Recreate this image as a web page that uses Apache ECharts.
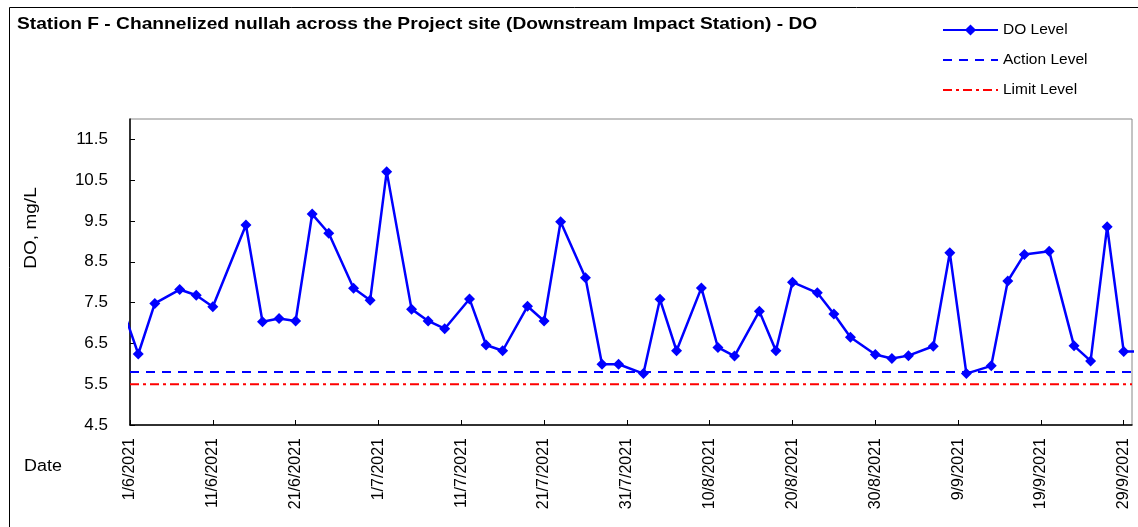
<!DOCTYPE html>
<html>
<head>
<meta charset="utf-8">
<script src="https://cdn.jsdelivr.net/npm/echarts@6/dist/echarts.min.js"></script>
<style>
html,body{margin:0;padding:0;background:#fff;}
#chart{width:1138px;height:527px;}
</style>
</head>
<body>
<div id="chart"></div>
<script>
// ---- data ----
var titleText = 'Station F - Channelized nullah across the Project site (Downstream Impact Station) - DO';
var sampleDates = ['30/5/2021','2/6/2021','4/6/2021','7/6/2021','9/6/2021','11/6/2021','15/6/2021','17/6/2021','19/6/2021','21/6/2021',
  '23/6/2021','25/6/2021','28/6/2021','30/6/2021','2/7/2021','5/7/2021','7/7/2021','9/7/2021','12/7/2021','14/7/2021',
  '16/7/2021','19/7/2021','21/7/2021','23/7/2021','26/7/2021','28/7/2021','30/7/2021','2/8/2021','4/8/2021','6/8/2021',
  '9/8/2021','11/8/2021','13/8/2021','16/8/2021','18/8/2021','20/8/2021','23/8/2021','25/8/2021','27/8/2021','30/8/2021',
  '1/9/2021','3/9/2021','6/9/2021','8/9/2021','10/9/2021','13/9/2021','15/9/2021','17/9/2021','20/9/2021','23/9/2021',
  '25/9/2021','27/9/2021','29/9/2021','1/10/2021'];
var doLevel = [8.0,6.24,7.48,7.82,7.68,7.40,9.40,7.03,7.11,7.05,
  9.67,9.20,7.85,7.56,10.71,7.34,7.05,6.86,7.59,6.46,
  6.32,7.41,7.05,9.48,8.11,5.99,5.99,5.76,7.58,6.32,
  7.86,6.40,6.19,7.29,6.32,8.00,7.74,7.22,6.65,6.23,
  6.13,6.20,6.43,8.72,5.76,5.95,8.03,8.68,8.76,6.44,
  6.07,9.36,6.30,6.30];
var actionLevel = 5.8;
var limitLevel = 5.5;
var axisStartDate = '1/6/2021';
var axisEndDate = '30/9/2021';
var yTickMin = 4.5, yTickMax = 12, yTickStep = 1;
var xTickStepDays = 10;

// ---- helpers ----
function parseDMY(s){ var p = s.split('/'); return Date.UTC(+p[2], +p[1]-1, +p[0]); }
var DAY = 86400000;
var t0 = parseDMY(axisStartDate);
function dayOf(s){ return Math.round((parseDMY(s) - t0) / DAY); }
function labelOf(d){ var dt = new Date(t0 + d*DAY); return dt.getUTCDate() + '/' + (dt.getUTCMonth()+1) + '/' + dt.getUTCFullYear(); }
var xMax = dayOf(axisEndDate);

var doData = sampleDates.map(function(s,i){ return [dayOf(s), doLevel[i]]; });
var actionData = [[0, actionLevel],[xMax, actionLevel]];
var limitData = [[0, limitLevel],[xMax, limitLevel]];

var FONT = 'Liberation Sans, Arial, sans-serif';
var chart = echarts.init(document.getElementById('chart'), null, {renderer:'canvas'});
chart.setOption({
  backgroundColor:'#ffffff',
  animation:false,
  textStyle:{fontFamily:FONT, color:'#000'},
  graphic:[
    {type:'rect', left:7, top:5, shape:{x:0,y:0,width:1140,height:530}, style:{fill:'none', stroke:'#000', lineWidth:1}, z:-1},
    {type:'text', x:17, y:24, scaleX:1.128, style:{text:titleText, font:'bold 17px '+FONT, fill:'#000', verticalAlign:'middle'}},
    {type:'text', x:24, y:467, scaleX:1.12, style:{text:'Date', font:'16px '+FONT, fill:'#000', verticalAlign:'middle'}},
    {type:'text', x:31, y:228, rotation:Math.PI/2, scaleX:1.12, style:{text:'DO, mg/L', font:'17px '+FONT, fill:'#000', align:'center', verticalAlign:'middle'}}
  ],
  legend:{
    orient:'vertical', left:937, top:17, itemWidth:55, itemHeight:14, itemGap:14,
    textStyle:{fontFamily:FONT, fontSize:15.5, color:'#000'},
    data:[
      {name:'DO Level'},
      {name:'Action Level', itemStyle:{opacity:0}},
      {name:'Limit Level', itemStyle:{opacity:0}}
    ]
  },
  grid:{left:130, top:119, width:1002, height:306, show:true, borderColor:'#888', borderWidth:1, containLabel:false},
  xAxis:{
    type:'value', min:0, max:xMax, interval:xTickStepDays,
    axisLine:{show:true, lineStyle:{color:'#000', width:1.5}},
    axisTick:{show:true, inside:true, length:5, lineStyle:{color:'#000'}},
    splitLine:{show:false},
    axisLabel:{rotate:90, margin:13, fontSize:16, color:'#000', fontFamily:FONT, showMaxLabel:false,
      formatter:function(v){ return labelOf(v); }}
  },
  yAxis:{
    type:'value', min:yTickMin, max:yTickMax, interval:yTickStep,
    axisLine:{show:true, lineStyle:{color:'#000', width:1.5}},
    axisTick:{show:true, inside:true, length:5, lineStyle:{color:'#000'}},
    splitLine:{show:false},
    axisLabel:{margin:22, fontSize:17, color:'#000', fontFamily:FONT, showMaxLabel:false,
      formatter:function(v){ return v.toFixed(1); }}
  },
  series:[
    {name:'DO Level', type:'line', data:doData, clip:true, symbol:'diamond', symbolSize:11,
      lineStyle:{color:'#0000ff', width:2.5}, itemStyle:{color:'#0000ff'}, z:5},
    {name:'Action Level', type:'line', data:actionData, symbol:'none',
      lineStyle:{color:'#0000ff', width:2, type:[9,7]}, itemStyle:{color:'#0000ff'}, z:3},
    {name:'Limit Level', type:'line', data:limitData, symbol:'none',
      lineStyle:{color:'#ff0000', width:2, type:[9,4,3,4]}, itemStyle:{color:'#ff0000'}, z:3}
  ]
});
</script>
</body>
</html>
